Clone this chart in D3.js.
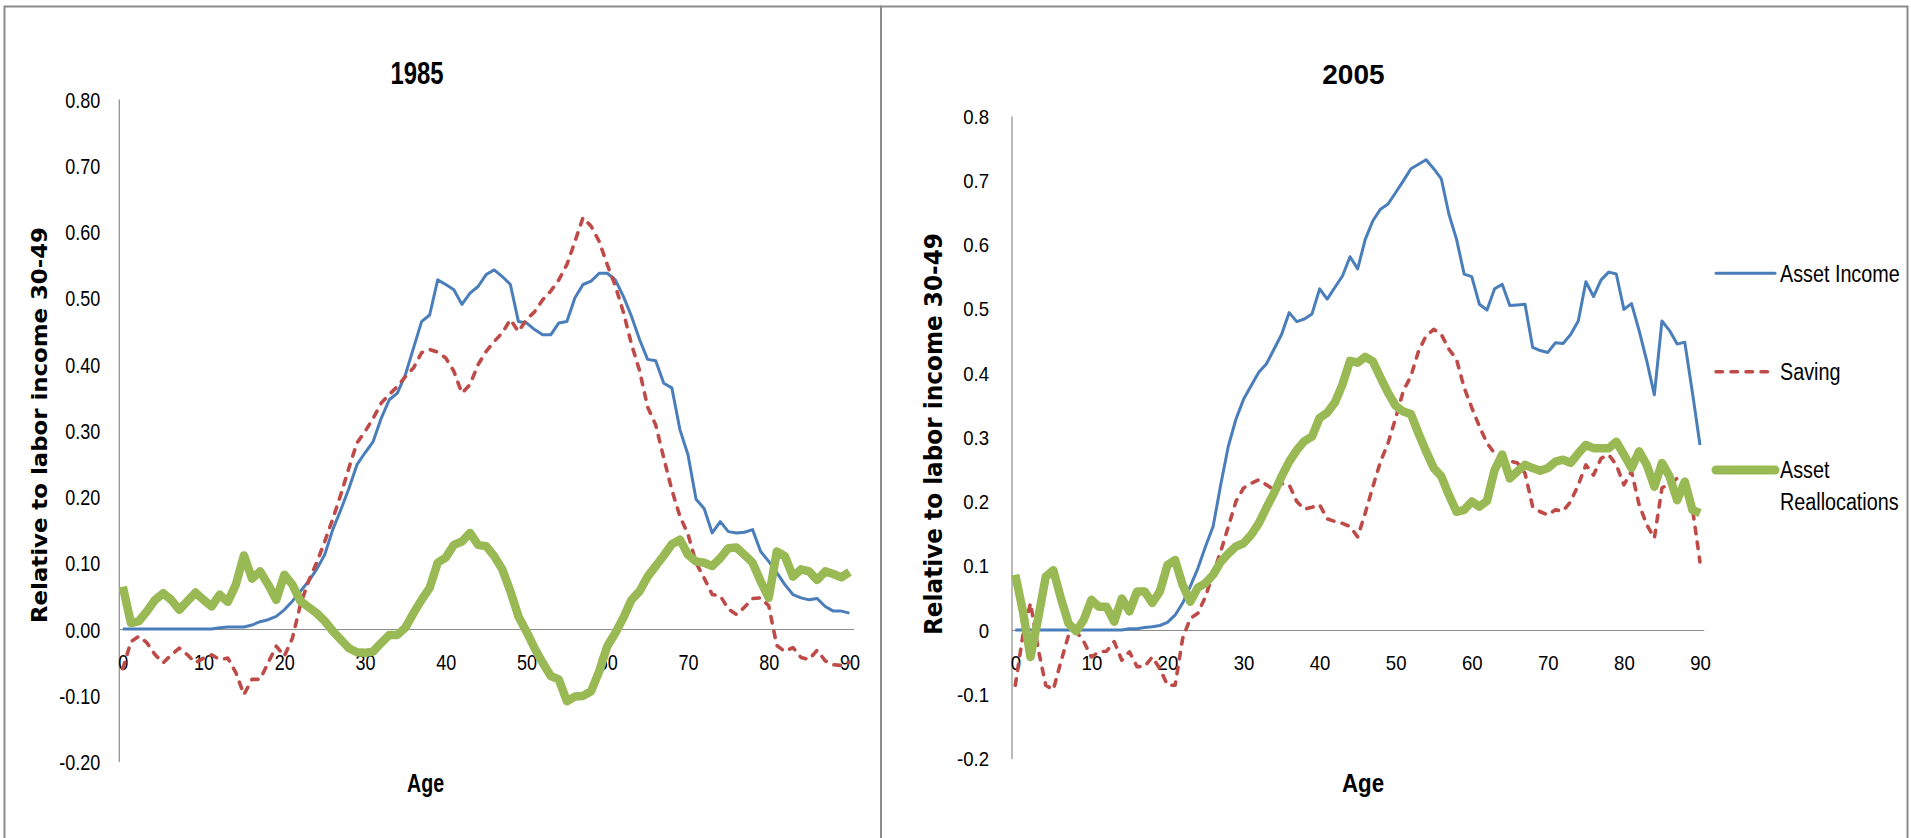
<!DOCTYPE html>
<html>
<head>
<meta charset="utf-8">
<script src="https://cdn.jsdelivr.net/npm/d3@7/dist/d3.min.js"></script>
<style>
  html, body { margin: 0; padding: 0; background: #fff; overflow: hidden; }
</style>
</head>
<body>
<svg id="chart"></svg>
<script>
// ages on the category axis, 0..90
const ages = [
  0,1,2,3,4,5,6,7,8,9,10,11,12,13,14,15,16,17,18,19,20,21,22,23,24,25,26,27,28,29,
  30,31,32,33,34,35,36,37,38,39,40,41,42,43,44,45,46,47,48,49,50,51,52,53,54,55,56,57,58,59,
  60,61,62,63,64,65,66,67,68,69,70,71,72,73,74,75,76,77,78,79,80,81,82,83,84,85,86,87,88,89,90
];
const ageTicks = [0, 10, 20, 30, 40, 50, 60, 70, 80, 90];
const yTicks = [-0.2, -0.1, 0, 0.1, 0.2, 0.3, 0.4, 0.5, 0.6, 0.7, 0.8];
const seriesNames = ['Asset Income', 'Saving', 'Asset Reallocations'];

// 1985
const assetIncome1985 = [
  0,0,0,0,0,0,0,0,0,0,0,0,0.002,0.003,0.003,0.003,0.006,0.011,0.014,0.019,
  0.029,0.042,0.057,0.072,0.090,0.112,0.150,0.180,0.212,0.248,0.266,0.283,0.318,0.346,0.356,0.384,0.424,0.464,0.474,0.527,
  0.520,0.512,0.490,0.507,0.517,0.535,0.542,0.532,0.520,0.464,0.462,0.452,0.444,0.444,0.462,0.464,0.500,0.520,0.525,0.537,
  0.537,0.527,0.502,0.472,0.437,0.407,0.405,0.371,0.364,0.301,0.263,0.196,0.182,0.145,0.162,0.147,0.145,0.146,0.150,0.117,
  0.102,0.085,0.067,0.052,0.047,0.044,0.046,0.034,0.027,0.027,0.024
];
const saving1985 = [
  -0.060,-0.019,-0.011,-0.021,-0.039,-0.051,-0.039,-0.029,-0.039,-0.051,-0.044,-0.039,-0.046,-0.044,-0.066,-0.099,-0.076,-0.076,-0.051,-0.026,
  -0.041,-0.014,0.037,0.072,0.100,0.132,0.166,0.203,0.243,0.281,0.298,0.318,0.341,0.354,0.366,0.381,0.394,0.417,0.422,0.418,
  0.409,0.389,0.356,0.369,0.399,0.419,0.434,0.447,0.467,0.449,0.467,0.479,0.497,0.510,0.527,0.550,0.585,0.621,0.608,0.585,
  0.550,0.518,0.478,0.430,0.390,0.335,0.308,0.258,0.210,0.170,0.143,0.100,0.077,0.052,0.050,0.030,0.022,0.033,0.046,0.047,
  0.035,-0.025,-0.034,-0.028,-0.043,-0.046,-0.032,-0.048,-0.054,-0.055,-0.050
];
const reallocations1985 = [
  0.064,0.009,0.012,0.027,0.044,0.054,0.044,0.029,0.042,0.055,0.044,0.034,0.052,0.041,0.067,0.111,0.076,0.087,0.067,0.044,
  0.082,0.067,0.042,0.033,0.024,0.012,-0.003,-0.016,-0.029,-0.035,-0.036,-0.034,-0.021,-0.009,-0.009,0.002,0.024,0.044,0.062,0.100,
  0.108,0.127,0.132,0.145,0.127,0.125,0.110,0.090,0.057,0.019,-0.004,-0.029,-0.051,-0.071,-0.076,-0.109,-0.102,-0.101,-0.094,-0.064,
  -0.026,-0.006,0.017,0.044,0.057,0.079,0.095,0.111,0.128,0.135,0.112,0.102,0.100,0.095,0.107,0.122,0.123,0.112,0.100,0.072,
  0.047,0.117,0.110,0.079,0.090,0.087,0.074,0.087,0.083,0.078,0.086
];

// 2005
const assetIncome2005 = [
  0,0,0,0,0,0,0,0,0,0,0,0,0,0,0,0.002,0.002,0.004,0.005,0.007,
  0.012,0.023,0.042,0.068,0.096,0.130,0.161,0.226,0.286,0.328,0.359,0.380,0.401,0.414,0.437,0.460,0.494,0.480,0.484,0.492,
  0.531,0.515,0.533,0.551,0.581,0.562,0.608,0.637,0.655,0.663,0.681,0.699,0.718,0.725,0.732,0.718,0.702,0.647,0.608,0.554,
  0.550,0.507,0.498,0.531,0.538,0.505,0.506,0.507,0.440,0.435,0.432,0.447,0.446,0.460,0.481,0.542,0.519,0.545,0.557,0.554,
  0.499,0.508,0.466,0.419,0.366,0.481,0.466,0.445,0.448,0.370,0.288
];
const saving2005 = [
  -0.086,-0.008,0.042,-0.029,-0.086,-0.093,-0.049,-0.008,-0.002,-0.018,-0.042,-0.034,-0.033,-0.018,-0.047,-0.034,-0.057,-0.057,-0.042,-0.060,
  -0.086,-0.086,-0.013,0.018,0.026,0.052,0.088,0.122,0.161,0.200,0.221,0.228,0.234,0.226,0.218,0.228,0.226,0.200,0.188,0.191,
  0.195,0.173,0.169,0.166,0.161,0.145,0.182,0.223,0.262,0.291,0.330,0.372,0.395,0.434,0.458,0.468,0.460,0.437,0.421,0.377,
  0.346,0.317,0.291,0.275,0.267,0.263,0.260,0.244,0.192,0.184,0.179,0.187,0.185,0.200,0.226,0.257,0.241,0.267,0.273,0.257,
  0.226,0.247,0.195,0.164,0.143,0.221,0.228,0.236,0.213,0.190,0.106
];
const reallocations2005 = [
  0.086,0.029,-0.042,0.018,0.083,0.093,0.049,0.010,-0.002,0.016,0.047,0.036,0.036,0.013,0.049,0.029,0.060,0.060,0.042,0.060,
  0.101,0.109,0.070,0.044,0.066,0.073,0.086,0.106,0.119,0.130,0.135,0.148,0.166,0.190,0.213,0.239,0.262,0.280,0.294,0.301,
  0.330,0.338,0.354,0.382,0.419,0.416,0.425,0.418,0.393,0.369,0.349,0.340,0.336,0.306,0.278,0.252,0.239,0.210,0.184,0.187,
  0.200,0.192,0.201,0.249,0.273,0.236,0.247,0.257,0.252,0.248,0.252,0.262,0.265,0.260,0.275,0.288,0.283,0.283,0.283,0.293,
  0.273,0.252,0.278,0.257,0.223,0.260,0.239,0.202,0.231,0.187,0.182
];

const W = 1911, H = 838;
const FONT = '"Liberation Sans", Arial, sans-serif';
const LABEL_FONT = '"DejaVu Sans", Verdana, sans-serif';

// line look per series, Excel 2007 defaults
const styles = [
  { color: '#4a7ebb', width: 3, dash: null },
  { color: '#be4b48', width: 3.6, dash: '6.5,8.5' },
  { color: '#98b954', width: 8.5, dash: null }
];

const svg = d3.select('#chart').attr('width', W).attr('height', H);
svg.append('rect').attr('width', W).attr('height', H).attr('fill', '#fff');

// panel frames
svg.append('rect').attr('x', 4.5).attr('y', 6.5).attr('width', 876.5).attr('height', 840)
  .attr('fill', 'none').attr('stroke', '#8c8c8c').attr('stroke-width', 2);
svg.append('rect').attr('x', 881).attr('y', 6.5).attr('width', 1026.5).attr('height', 840)
  .attr('fill', 'none').attr('stroke', '#8c8c8c').attr('stroke-width', 2);

// horizontally squeezed text, to get the narrow Calibri look
function addText(g, x, y, str, o) {
  return g.append('text')
    .attr('transform', `translate(${x},${y}) scale(${o.sx || 1},1)`)
    .attr('text-anchor', o.anchor || 'start')
    .style('font-family', o.family || FONT)
    .style('font-size', o.size + 'px')
    .style('font-weight', o.weight || 'normal')
    .attr('fill', '#000')
    .text(str);
}

function createPanel(cfg) {
  const g = svg.append('g');

  const x = d3.scalePoint().domain(ages).range([cfg.left, cfg.right]).padding(0.5);
  const y = d3.scaleLinear().domain([-0.2, 0.8]).range([cfg.bottom, cfg.top]);

  // y axis
  const yaxis = d3.axisLeft(y).tickValues(yTicks).tickSize(0).tickSizeOuter(0).tickFormat(cfg.yFormat);
  const g_yaxis = g.append('g').attr('transform', `translate(${cfg.left},0)`).call(yaxis);
  g_yaxis.select('.domain').attr('stroke', '#8c8c8c').attr('stroke-width', 1.2);
  g_yaxis.selectAll('text')
    .attr('x', -cfg.tickGap / cfg.tickSx)
    .attr('dy', '0.36em')
    .attr('transform', `scale(${cfg.tickSx},1)`)
    .style('font-family', FONT)
    .style('font-size', cfg.tickSize + 'px')
    .attr('fill', '#000');

  // x axis sits on the zero line
  const xaxis = d3.axisBottom(x).tickValues(ageTicks).tickSize(0).tickSizeOuter(0);
  const g_xaxis = g.append('g').attr('transform', `translate(0,${y(0)})`).call(xaxis);
  g_xaxis.select('.domain').attr('stroke', '#8c8c8c').attr('stroke-width', 1.2);
  g_xaxis.selectAll('text')
    .attr('y', cfg.xLabelOffset)
    .attr('dy', '0.36em')
    .attr('transform', `scale(${cfg.tickSx},1)`)
    .style('font-family', FONT)
    .style('font-size', cfg.tickSize + 'px')
    .attr('fill', '#000');

  // lines
  const line = d3.line().x((d, i) => x(ages[i])).y((d) => y(d));
  cfg.series.forEach((values, k) => {
    const s = styles[k];
    g.append('path')
      .datum(values)
      .attr('d', line)
      .attr('fill', 'none')
      .attr('stroke', s.color)
      .attr('stroke-width', s.width)
      .attr('stroke-linejoin', 'round')
      .attr('stroke-linecap', s.dash ? 'round' : 'butt')
      .attr('stroke-dasharray', s.dash);
  });

  // title, axis titles
  addText(g, cfg.titleX, 84, cfg.title, { size: cfg.titleSize, sx: cfg.titleSx, weight: 'bold', anchor: 'middle' });
  addText(g, cfg.ageX, 792, 'Age', { size: 26.5, sx: cfg.ageSx, weight: 'bold', anchor: 'middle' });
  g.append('text')
    .attr('transform', `translate(${cfg.ylabX},${cfg.ylabY}) rotate(-90)`)
    .attr('text-anchor', 'middle')
    .attr('textLength', cfg.ylabLen)
    .attr('lengthAdjust', 'spacingAndGlyphs')
    .style('font-family', LABEL_FONT)
    .style('font-size', cfg.ylabSize + 'px')
    .style('font-weight', 'bold')
    .text('Relative to labor income 30-49');

  return g;
}

createPanel({
  left: 118.8, right: 853.5, top: 99, bottom: 761.5,
  yFormat: (d) => d.toFixed(2),
  tickGap: 18.5, tickSx: 0.8, tickSize: 22.5, xLabelOffset: 33,
  title: '1985', titleX: 417, titleSize: 31, titleSx: 0.77,
  ageX: 425.6, ageSx: 0.74,
  ylabX: 46.5, ylabY: 425, ylabLen: 396, ylabSize: 21,
  series: [assetIncome1985, saving1985, reallocations1985]
});

const right = createPanel({
  left: 1011.5, right: 1703.8, top: 116, bottom: 758.5,
  yFormat: (d) => String(+d.toFixed(1)),
  tickGap: 22.5, tickSx: 0.93, tickSize: 20, xLabelOffset: 33,
  title: '2005', titleX: 1353.4, titleSize: 28, titleSx: 1.0,
  ageX: 1363, ageSx: 0.84,
  ylabX: 942, ylabY: 434, ylabLen: 402, ylabSize: 25,
  series: [assetIncome2005, saving2005, reallocations2005]
});

// legend
const legendY = [273.3, 371.7, 470];
const legend = right.append('g');
seriesNames.forEach((name, k) => {
  const s = styles[k];
  legend.append('line')
    .attr('x1', 1716).attr('x2', 1775)
    .attr('y1', legendY[k]).attr('y2', legendY[k])
    .attr('stroke', s.color)
    .attr('stroke-width', k === 2 ? 9 : s.width)
    .attr('stroke-linecap', 'round')
    .attr('stroke-dasharray', s.dash);
});
addText(legend, 1780, 281.7, 'Asset Income', { size: 24.7, sx: 0.8 });
addText(legend, 1780, 380, 'Saving', { size: 24.7, sx: 0.8 });
addText(legend, 1780, 478.3, 'Asset', { size: 24.7, sx: 0.8 });
addText(legend, 1780, 510, 'Reallocations', { size: 24.7, sx: 0.8 });
</script>
</body>
</html>
